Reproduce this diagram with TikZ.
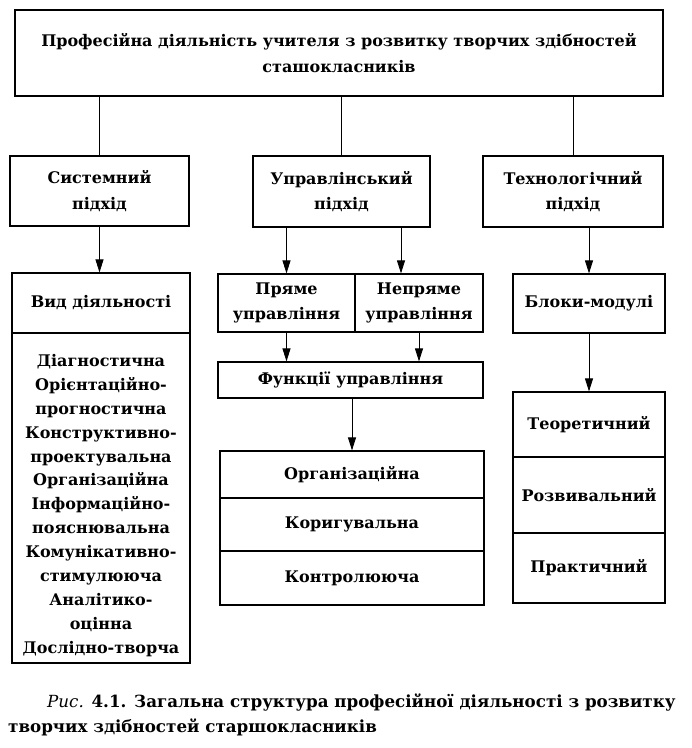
\documentclass[tikz,border=0pt]{standalone}
\usepackage{fontspec}
\setmainfont{DejaVu Serif}
\usetikzlibrary{arrows.meta}

\begin{document}
\begin{tikzpicture}[x=1pt,y=-1pt,
		box/.style={rectangle,draw,line width=1.2pt,inner sep=0pt,align=center,font=\fontsize{16}{25.5}\selectfont\bfseries},
		arr/.style={line width=0.8pt,-{Triangle[length=13pt,width=8pt]}},
		link/.style={line width=0.8pt},
		caption/.style={inner sep=0pt,anchor=west,font=\fontsize{16.7}{25}\selectfont\bfseries}]
		\useasboundingbox (0,0) rectangle (692,748);
%		\draw[help lines,step=20] (0,0) grid (692,748);
		\path (339,53) node(top_box) [box,minimum width=648,minimum height=86] {Професійна діяльність учителя з розвитку творчих здібностей\\сташокласників};
		\path (99.5,191) node(sys_app) [box,minimum width=179,minimum height=70] {Системний\\підхід};
		\path (341.5,191.5) node(upr_app) [box,minimum width=177,minimum height=71] {Управлінський\\підхід};
		\path (573,191.5) node(tech_app) [box,minimum width=180,minimum height=71] {Технологічний\\підхід};

		% left column
		\path (101,303) node(vid) [box,minimum width=178,minimum height=60] {Вид діяльності};
		\path (101,498) node(vid_list) [box,minimum width=178,minimum height=330,font=\fontsize{16}{23.9}\selectfont\bfseries]
			{\rule{0pt}{27pt}Діагностична\\Орієнтаційно-\\прогностична\\Конструктивно-\\проектувальна\\Організаційна\\Інформаційно-\\пояснювальна\\Комунікативно-\\стимулююча\\Аналітико-\\оцінна\\Дослідно-творча};

		% middle column
		\path (286.5,303) node(direct) [box,minimum width=137,minimum height=58] {Пряме\\управління};
		\path (419,303) node(indirect) [box,minimum width=128,minimum height=58] {Непряме\\управління};
		\path (350.5,380) node(func) [box,minimum width=265,minimum height=36] {Функції управління};
		\path (352,474.5) node(org) [box,minimum width=264,minimum height=47] {Організаційна};
		\path (352,524.5) node(korig) [box,minimum width=264,minimum height=53] {Коригувальна};
		\path (352,578) node(kontr) [box,minimum width=264,minimum height=54] {Контролююча};

		% right column
		\path (589,303.5) node(blocks) [box,minimum width=152,minimum height=59] {Блоки-модулі};
		\path (589,424.5) node(teor) [box,minimum width=152,minimum height=65] {Теоретичний};
		\path (589,495) node(rozv) [box,minimum width=152,minimum height=76] {Розвивальний};
		\path (589,568) node(prakt) [box,minimum width=152,minimum height=70] {Практичний};

		% connectors
		\draw[link] (sys_app.north |- top_box.south) -- (sys_app.north);
		\draw[link] (upr_app.north |- top_box.south) -- (upr_app.north);
		\draw[link] (tech_app.north |- top_box.south) -- (tech_app.north);
		\draw[arr] (sys_app.south) -- (sys_app.south |- vid.north);
		\draw[arr] (direct.north |- upr_app.south) -- (direct.north);
		\draw[arr] (upr_app.south -| 401,0) -- (indirect.north -| 401,0);
		\draw[arr] (blocks.north |- tech_app.south) -- (blocks.north);
		\draw[arr] (direct.south) -- (direct.south |- func.north);
		\draw[arr] (indirect.south) -- (indirect.south |- func.north);
		\draw[arr] (func.south -| org.north) -- (org.north);
		\draw[arr] (blocks.south) -- (teor.north);

		% caption
		\path (47,703) node(caption1) [caption] {{\mdseries\itshape Рис.} 4.1. Загальна структура професійної діяльності з розвитку};
		\path (8,727) node(caption2) [caption] {творчих здібностей старшокласників};
	\end{tikzpicture}
\end{document}
